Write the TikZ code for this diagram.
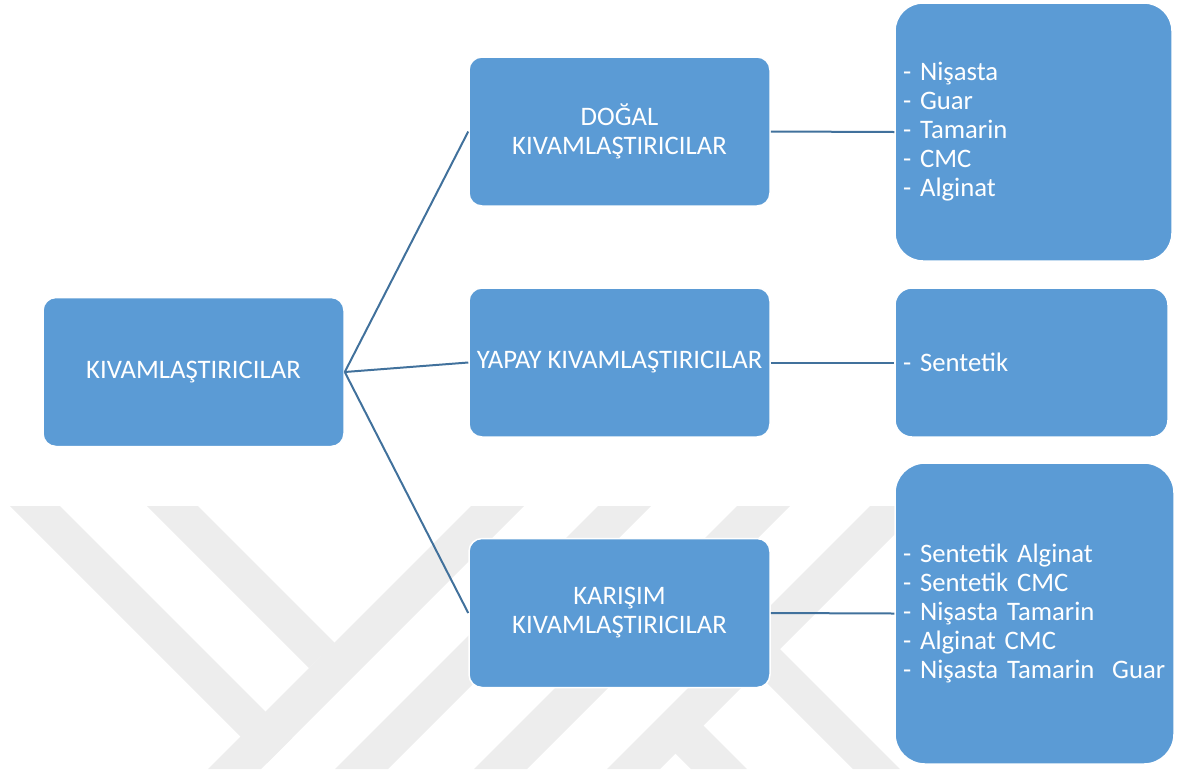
\documentclass[tikz,border=0pt]{standalone}
\usepackage{fontspec}
\setmainfont{Carlito}

\definecolor{kutumavi}{RGB}{91,155,213}
\definecolor{cizgimavi}{RGB}{65,113,156}
\definecolor{filigran}{RGB}{237,237,237}

\begin{document}
\begin{tikzpicture}[
  x=1pt,
  y=-1pt,
  kutu/.style={draw=white, line width=1.5pt, fill=kutumavi, text=white,
    rounded corners=13pt, minimum width=301pt, minimum height=149pt,
    inner sep=2pt, align=center, font=\fontsize{26.7}{29}\selectfont},
  liste/.style={kutu, align=left, minimum width=0pt, inner xsep=8pt},
  bag/.style={draw=cizgimavi, line width=2pt}
]
  \useasboundingbox (0,0) rectangle (1185,769);

  % filigran
  \begin{scope}
    \clip (0,506) rectangle (1185,769);
    \fill[filigran] (10,506) -- (60,506) -- (292,738) -- (267,763) -- cycle;
    \fill[filigran] (147,506) -- (198,506) -- (335,643) -- (309,668) -- cycle;
    \fill[filigran] (471,506) -- (524,506) -- (261,769) -- (208,769) -- cycle;
    \fill[filigran] (598,506) -- (651,506) -- (388,769) -- (335,769) -- cycle;
    \fill[filigran] (737,506) -- (790,506) -- (527,769) -- (474,769) -- cycle;
    \fill[filigran] (870,506) -- (923,506) -- (660,769) -- (607,769) -- cycle;
    \fill[filigran] (662,740) -- (690,712) -- (747,769) -- (691,769) -- cycle;
    \fill[filigran] (744,660) -- (766,635) -- (900,769) -- (853,769) -- cycle;
  \end{scope}

  \node[kutu] (kok) at (193.5,372) {KIVAMLAŞTIRICILAR};
  \node[kutu] (dogal) at (619.5,131.5) {DOĞAL\\KIVAMLAŞTIRICILAR};
  \node[kutu] (yapay) at (619.5,362.5) {YAPAY KIVAMLAŞTIRICILAR};
  \node[kutu] (karisim) at (619.5,613) {KARIŞIM\\KIVAMLAŞTIRICILAR};

  \node[liste, rounded corners=28pt, text width=261pt, minimum height=258pt]
    (dogalliste) at (1033.5,132) {- Nişasta\\- Guar\\- Tamarin\\- CMC\\- Alginat};
  \node[liste, rounded corners=17pt, text width=257pt, minimum height=149pt]
    (yapayliste) at (1031.5,362.5) {- Sentetik};
  \node[liste, rounded corners=30pt, text width=263pt, minimum height=301pt]
    (karisimliste) at (1034.5,613.5) {- Sentetik Alginat\\- Sentetik CMC\\- Nişasta Tamarin\\- Alginat CMC\\- Nişasta Tamarin \ Guar};

  % bağlantılar
  \draw[bag] (kok.east) -- (dogal.west);
  \draw[bag] (kok.east) -- (yapay.west);
  \draw[bag] (kok.east) -- (karisim.west);
  \draw[bag] (dogal.east) -- (dogalliste.west);
  \draw[bag] (yapay.east) -- (yapayliste.west);
  \draw[bag] (karisim.east) -- (karisimliste.west);
\end{tikzpicture}
\end{document}
